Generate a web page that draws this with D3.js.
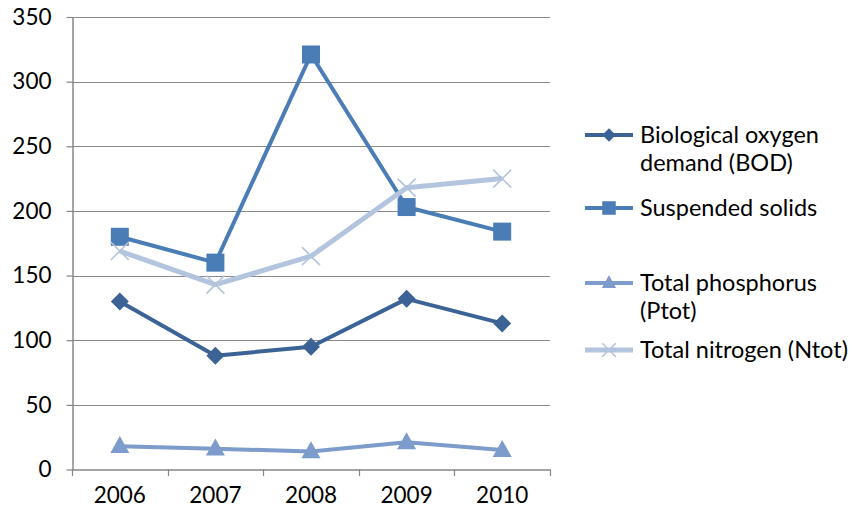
<!DOCTYPE html>
<html><head><meta charset="utf-8">
<script src="https://cdn.jsdelivr.net/npm/d3@7"></script>
<style>body{margin:0;background:#fff}svg{display:block}text{font-family:Lato,"Noto Sans",sans-serif;fill:#000}</style>
</head><body><svg id="c" width="852" height="512"></svg>
<script>
const years = ["2006","2007","2008","2009","2010"];
const bod = [130, 88, 95, 132, 113];
const suspended = [180, 160, 321, 203, 184];
const ptot = [18, 16, 14, 21, 15];
const ntot = [169, 143, 165, 218, 225];
const yTicks = [0,50,100,150,200,250,300,350];

const series = [
  {name:["Biological oxygen","demand (BOD)"], values:bod, color:"#3C6395", marker:"diamond", width:4, ly:135},
  {name:["Suspended solids"], values:suspended, color:"#4A7CB6", marker:"square", width:4, ly:208},
  {name:["Total phosphorus","(Ptot)"], values:ptot, color:"#7D9BCB", marker:"triangle", width:4, ly:283},
  {name:["Total nitrogen (Ntot)"], values:ntot, color:"#B3C4DE", marker:"cross", width:5, ly:350}
];

const svg = d3.select("#c");
const x = d3.scaleBand().domain(years).range([72,550]);
const y = d3.scaleLinear().domain([0,350]).range([469.5,17]);

svg.append("g").selectAll("line").data(yTicks.filter(d=>d>0)).join("line")
  .attr("x1",72).attr("x2",550).attr("y1",d=>Math.round(y(d))+0.5).attr("y2",d=>Math.round(y(d))+0.5)
  .attr("stroke","#8a8a8a").attr("stroke-width",1.2);

const ya = svg.append("g").attr("transform","translate(72.5,0)")
  .call(d3.axisLeft(y).tickValues(yTicks).tickSize(6).tickPadding(15).tickSizeOuter(0));
ya.select(".domain").attr("stroke","#868686").attr("stroke-width",1.5);
ya.selectAll(".tick line").attr("stroke","#868686").attr("stroke-width",1.2);
ya.selectAll(".tick text").attr("font-size",22.5).style("font-family","Lato,'Noto Sans',sans-serif").attr("fill","#000");

const xa = svg.append("g").attr("transform","translate(0,469.5)")
  .call(d3.axisBottom(x).tickSize(0).tickPadding(18));
xa.select(".domain").attr("stroke","#868686").attr("stroke-width",1.5);
xa.selectAll(".tick text").attr("font-size",22.5).style("font-family","Lato,'Noto Sans',sans-serif").attr("fill","#000");
const bounds = years.map(d=>x(d)).concat([x.range()[1]]);
svg.append("g").selectAll("line").data(bounds).join("line")
  .attr("x1",d=>Math.round(d)+0.5).attr("x2",d=>Math.round(d)+0.5).attr("y1",469.5).attr("y2",476)
  .attr("stroke","#868686").attr("stroke-width",1.2);

const cx = d => x(d)+x.bandwidth()/2;

function drawMarker(g, type, color, px, py, scale){
  const s = scale||1;
  if(type==="diamond"){
    const r=9*s;
    g.append("path").attr("d",`M${px},${py-r}L${px+r},${py}L${px},${py+r}L${px-r},${py}Z`).attr("fill",color);
  } else if(type==="square"){
    const r=9*s;
    g.append("rect").attr("x",px-r).attr("y",py-r).attr("width",2*r).attr("height",2*r).attr("fill",color);
  } else if(type==="triangle"){
    const w=9.5*s, h=17*s;
    g.append("path").attr("d",`M${px},${py-h*0.6}L${px+w},${py+h*0.4}L${px-w},${py+h*0.4}Z`).attr("fill",color);
  } else if(type==="cross"){
    const r=9*s;
    g.append("path").attr("d",`M${px-r},${py-r}L${px+r},${py+r}M${px-r},${py+r}L${px+r},${py-r}`)
      .attr("stroke",color).attr("stroke-width",1.6).attr("fill","none");
  }
}

const line = d3.line().x((d,i)=>cx(years[i])).y(d=>y(d));
series.forEach(s=>{
  const g = svg.append("g");
  g.append("path").attr("d",line(s.values)).attr("fill","none").attr("stroke",s.color)
    .attr("stroke-width",s.width).attr("stroke-linejoin","round");
  s.values.forEach((v,i)=>drawMarker(g,s.marker,s.color,cx(years[i]),y(v)));
});

const lg = svg.append("g");
series.forEach(s=>{
  lg.append("line").attr("x1",585).attr("x2",633).attr("y1",s.ly).attr("y2",s.ly)
    .attr("stroke",s.color).attr("stroke-width",s.width);
  drawMarker(lg,s.marker,s.color,609,s.ly,0.75);
  s.name.forEach((t,k)=>{
    lg.append("text").attr("x",640).attr("y",s.ly+8+k*28).attr("font-size",23.5).text(t);
  });
});
</script></body></html>
